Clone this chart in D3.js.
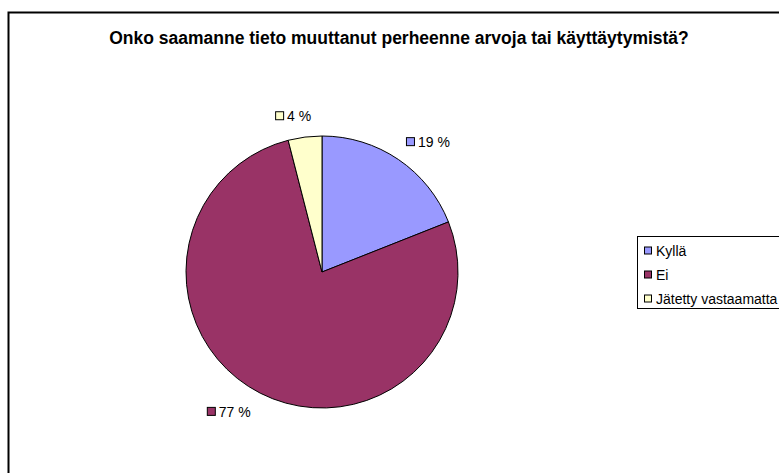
<!DOCTYPE html>
<html>
<head>
<meta charset="utf-8">
<script src="https://cdn.jsdelivr.net/npm/d3@7"></script>
<style>
  body{margin:0;background:#fff;}
  svg{display:block;font-family:"Liberation Sans",Arial,sans-serif;}
</style>
</head>
<body>
<div id="chart"></div>
<script>
// data
var categories=["Kyllä","Ei","Jätetty vastaamatta"];
var values=[19,77,4];
var colors=["#9999ff","#993366","#ffffcc"];
var title="Onko saamanne tieto muuttanut perheenne arvoja tai käyttäytymistä?";

var width=779,height=473;
var svg=d3.select("#chart").append("svg")
	.attr("width",width)
	.attr("height",height);

// chart frame (runs off the right and bottom edge)
svg.append("rect")
	.attr("x",8.5).attr("y",12.5)
	.attr("width",800).attr("height",500)
	.attr("fill","#fff")
	.attr("stroke","#000")
	.attr("stroke-width",2);

svg.append("text")
	.attr("x",399).attr("y",44)
	.attr("text-anchor","middle")
	.style("font-size","17.5px")
	.style("font-weight","bold")
	.text(title);

var cx=322,cy=272,r=136;
var pie=d3.pie().sort(null).value(d=>d);
var arcs=pie(values);
var arc=d3.arc().innerRadius(0).outerRadius(r);

var g=svg.append("g").attr("transform","translate("+cx+","+cy+")");
g.selectAll("path")
	.data(arcs)
	.enter().append("path")
	.attr("d",arc)
	.attr("fill",(d,i)=>colors[i])
	.attr("stroke","#000")
	.attr("stroke-width",1);

// data labels, centred on an ellipse outside the rim
var Rx=196,Ry=157;
var lab=g.selectAll("g.lab")
	.data(arcs)
	.enter().append("g")
	.attr("class","lab");
lab.append("rect")
	.attr("x",0.5).attr("y",-4.5)
	.attr("width",8).attr("height",8)
	.attr("fill",(d,i)=>colors[i])
	.attr("stroke","#000")
	.attr("stroke-width",1);
lab.append("text")
	.attr("x",12).attr("y",5)
	.style("font-size","14px")
	.text(d=>d.data+" %");
lab.attr("transform",function(d){
	var a=(d.startAngle+d.endAngle)/2;
	var bb=this.getBBox();
	var x=Rx*Math.sin(a)-4-(bb.x+bb.width/2);
	var y=-Ry*Math.cos(a);   // square centre sits on y=0 of the group
	return "translate("+x+","+y+")";
});

// legend
var lg=svg.append("g").attr("transform","translate(637,236)");
lg.append("rect")
	.attr("x",0.5).attr("y",0.5)
	.attr("width",200).attr("height",72)
	.attr("fill","#fff")
	.attr("stroke","#000")
	.attr("stroke-width",1);
var item=lg.selectAll("g.item")
	.data(categories)
	.enter().append("g")
	.attr("class","item")
	.attr("transform",(d,i)=>"translate(7,"+(14.5+i*24)+")");
item.append("rect")
	.attr("x",0.5).attr("y",-3.5)
	.attr("width",7).attr("height",7)
	.attr("fill",(d,i)=>colors[i])
	.attr("stroke","#000")
	.attr("stroke-width",1);
item.append("text")
	.attr("x",12).attr("y",5)
	.style("font-size","14px")
	.text(d=>d);
</script>
</body>
</html>
